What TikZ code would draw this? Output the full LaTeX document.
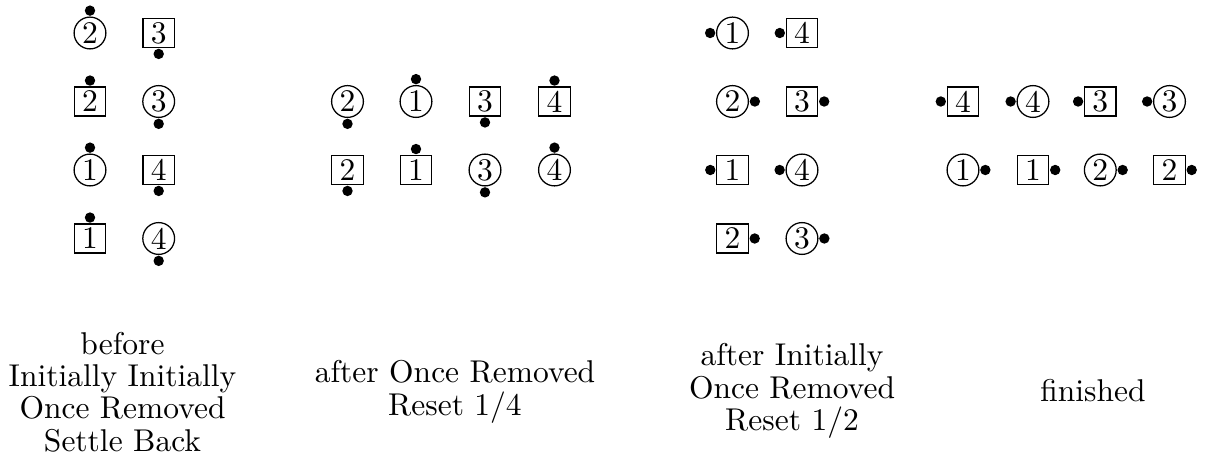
\documentclass[tikz,border=0pt]{standalone}
\begin{document}
\begin{tikzpicture}[x=0.3175pt,y=-0.3175pt,
  circ/.style={draw,circle,inner sep=0pt,minimum size=10.1pt},
  sq/.style={draw,rectangle,inner sep=0pt,minimum width=10pt,minimum height=9.2pt},
  dot/.style={fill,circle,inner sep=0pt,minimum size=3.3pt},
  lab/.style={align=center,inner sep=0pt,font=\fontsize{10pt}{10.3pt}\selectfont}]
\useasboundingbox (0,0) rectangle (1210,475);
% panel 1
\node[circ] (a1) at (90,33) {2};
\node[sq]   (a2) at (158.7,33) {3};
\node[sq]   (a3) at (90,101.5) {2};
\node[circ] (a4) at (158.7,101.5) {3};
\node[circ] (a5) at (90,170) {1};
\node[sq]   (a6) at (158.7,170) {4};
\node[sq]   (a7) at (90,238.5) {1};
\node[circ] (a8) at (158.7,238.5) {4};
\node[dot,anchor=south] (da1) at (a1.north) {};
\node[dot,anchor=north] (da2) at (a2.south) {};
\node[dot,anchor=south] (da3) at (a3.north) {};
\node[dot,anchor=north] (da4) at (a4.south) {};
\node[dot,anchor=south] (da5) at (a5.north) {};
\node[dot,anchor=north] (da6) at (a6.south) {};
\node[dot,anchor=south] (da7) at (a7.north) {};
\node[dot,anchor=north] (da8) at (a8.south) {};
% panel 2
\node[circ] (b1) at (347.5,101.5) {2};
\node[circ] (b2) at (416,101.5) {1};
\node[sq]   (b3) at (485,101.5) {3};
\node[sq]   (b4) at (554.5,101.5) {4};
\node[sq]   (b5) at (347.5,170) {2};
\node[sq]   (b6) at (416,170) {1};
\node[circ] (b7) at (485,170) {3};
\node[circ] (b8) at (554.5,170) {4};
\node[dot,anchor=north] (db1) at (b1.south) {};
\node[dot,anchor=south] (db2) at (b2.north) {};
\node[dot,anchor=north] (db3) at (b3.south) {};
\node[dot,anchor=south] (db4) at (b4.north) {};
\node[dot,anchor=north] (db5) at (b5.south) {};
\node[dot,anchor=south] (db6) at (b6.north) {};
\node[dot,anchor=north] (db7) at (b7.south) {};
\node[dot,anchor=south] (db8) at (b8.north) {};
% panel 3
\node[circ] (c1) at (732.5,33) {1};
\node[sq]   (c2) at (802,33) {4};
\node[circ] (c3) at (732.5,101.5) {2};
\node[sq]   (c4) at (802,101.5) {3};
\node[sq]   (c5) at (732.5,170) {1};
\node[circ] (c6) at (802,170) {4};
\node[sq]   (c7) at (732.5,238.5) {2};
\node[circ] (c8) at (802,238.5) {3};
\node[dot,anchor=east] (dc1) at (c1.west) {};
\node[dot,anchor=east] (dc2) at (c2.west) {};
\node[dot,anchor=west] (dc3) at (c3.east) {};
\node[dot,anchor=west] (dc4) at (c4.east) {};
\node[dot,anchor=east] (dc5) at (c5.west) {};
\node[dot,anchor=east] (dc6) at (c6.west) {};
\node[dot,anchor=west] (dc7) at (c7.east) {};
\node[dot,anchor=west] (dc8) at (c8.east) {};
% panel 4
\node[sq]   (e1) at (963,101.5) {4};
\node[circ] (e2) at (1033,101.5) {4};
\node[sq]   (e3) at (1100.3,101.5) {3};
\node[circ] (e4) at (1169.5,101.5) {3};
\node[circ] (e5) at (963,170) {1};
\node[sq]   (e6) at (1033,170) {1};
\node[circ] (e7) at (1100.3,170) {2};
\node[sq]   (e8) at (1169.5,170) {2};
\node[dot,anchor=east] (de1) at (e1.west) {};
\node[dot,anchor=east] (de2) at (e2.west) {};
\node[dot,anchor=east] (de3) at (e3.west) {};
\node[dot,anchor=east] (de4) at (e4.west) {};
\node[dot,anchor=west] (de5) at (e5.east) {};
\node[dot,anchor=west] (de6) at (e6.east) {};
\node[dot,anchor=west] (de7) at (e7.east) {};
\node[dot,anchor=west] (de8) at (e8.east) {};
% labels
\node[lab] (l1) at (122.5,392) {before\\Initially Initially\\Once Removed\\Settle Back};
\node[lab] (l2) at (455,392) {after Once Removed\\Reset 1/4};
\node[lab] (l3) at (792,391) {after Initially\\Once Removed\\Reset 1/2};
\node[lab] (l4) at (1093,391) {finished};
\end{tikzpicture}
\end{document}
